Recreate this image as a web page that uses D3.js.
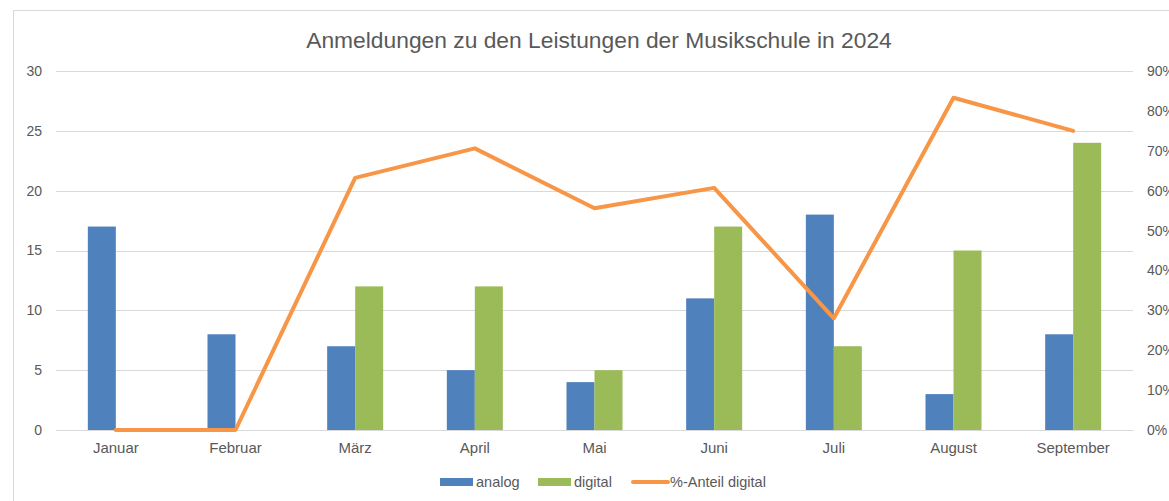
<!DOCTYPE html>
<html>
<head>
<meta charset="utf-8">
<script src="https://cdn.jsdelivr.net/npm/d3@7"></script>
<style>
  body { margin: 0; background: #fff; }
  text { font-family: "Liberation Sans Narrow", "Liberation Sans", Arial, sans-serif; fill: #595959; }
  .title { font-family: "Liberation Sans", Arial, sans-serif; }
</style>
</head>
<body>
<div id="chart"></div>
<script>
// data
const months = ["Januar", "Februar", "März", "April", "Mai", "Juni", "Juli", "August", "September"];
const analog = [17, 8, 7, 5, 4, 11, 18, 3, 8];
const digital = [0, 0, 12, 12, 5, 17, 7, 15, 24];
const shareDigital = [0, 0, 0.632, 0.706, 0.556, 0.607, 0.28, 0.833, 0.75];
const leftTicks = [0, 5, 10, 15, 20, 25, 30];
const rightTicks = [0, 0.1, 0.2, 0.3, 0.4, 0.5, 0.6, 0.7, 0.8, 0.9];

const width = 1169, height = 501;
const margin = {top: 71, right: 36, bottom: 71, left: 56};
const colors = {analog: "#4f81bd", digital: "#9bbb59", line: "#f79646"};

const svg = d3.select("#chart").append("svg")
  .attr("width", width)
  .attr("height", height);

// chart frame (cropped on the right and bottom)
svg.append("rect")
  .attr("x", 13.5).attr("y", 10.5)
  .attr("width", 1200).attr("height", 600)
  .attr("fill", "none").attr("stroke", "#d9d9d9");

const x0 = d3.scaleBand()
  .domain(months)
  .range([margin.left, width - margin.right])
  .padding(0);

const bw = x0.bandwidth();
const x1 = d3.scaleBand()
  .domain(["analog", "digital"])
  .range([bw * 0.266, bw * 0.734]);

const y = d3.scaleLinear().domain([0, 30]).range([height - margin.bottom, margin.top]);
const y2 = d3.scaleLinear().domain([0, 0.9]).range([height - margin.bottom, margin.top]);

// gridlines
svg.append("g")
  .selectAll("line")
  .data(leftTicks)
  .join("line")
    .attr("x1", margin.left).attr("x2", width - margin.right)
    .attr("y1", d => Math.round(y(d)) + 0.5).attr("y2", d => Math.round(y(d)) + 0.5)
    .attr("stroke", "#d9d9d9").attr("stroke-width", 1);

// left axis
const yAxis = d3.axisLeft(y).tickValues(leftTicks).tickSize(0).tickPadding(14);
const yAxisG = svg.append("g")
  .attr("transform", "translate(" + margin.left + ",0)")
  .call(yAxis);
yAxisG.select(".domain").remove();
yAxisG.selectAll("text").style("font-size", "14px").style("font-family", "'Liberation Sans', Arial, sans-serif").attr("fill", "#595959");

// right axis (clipped by the picture edge, as in the original)
const y2Axis = d3.axisRight(y2).tickValues(rightTicks).tickSize(0).tickPadding(14)
  .tickFormat(d3.format(".0%"));
const y2AxisG = svg.append("g")
  .attr("transform", "translate(" + (width - margin.right) + ",0)")
  .call(y2Axis);
y2AxisG.select(".domain").remove();
y2AxisG.selectAll("text").style("font-size", "14px").style("font-family", "'Liberation Sans', Arial, sans-serif").attr("fill", "#595959");

// bars
const rows = months.map((m, i) => ({month: m, analog: analog[i], digital: digital[i]}));
svg.append("g")
  .selectAll("g")
  .data(rows)
  .join("g")
    .attr("transform", d => "translate(" + x0(d.month) + ",0)")
  .selectAll("rect")
  .data(d => ["analog", "digital"].map(k => ({key: k, value: d[k]})))
  .join("rect")
    .attr("x", d => x1(d.key))
    .attr("y", d => y(d.value))
    .attr("width", x1.bandwidth())
    .attr("height", d => y(0) - y(d.value))
    .attr("fill", d => colors[d.key]);

// x axis
const xAxis = d3.axisBottom(x0).tickSize(0).tickPadding(12);
const xAxisG = svg.append("g")
  .attr("transform", "translate(0," + (height - margin.bottom) + ")")
  .call(xAxis);
xAxisG.select(".domain").attr("stroke", "#d9d9d9");
xAxisG.selectAll("text").style("font-size", "15px").style("font-family", "'Liberation Sans Narrow', 'Liberation Sans', Arial, sans-serif").attr("fill", "#595959");

// line
const line = d3.line()
  .x((d, i) => x0(months[i]) + bw / 2)
  .y(d => y2(d));
svg.append("path")
  .datum(shareDigital)
  .attr("d", line)
  .attr("fill", "none")
  .attr("stroke", colors.line)
  .attr("stroke-width", 4)
  .attr("stroke-linejoin", "round")
  .attr("stroke-linecap", "round");

// title
svg.append("text")
  .attr("class", "title")
  .attr("x", 599)
  .attr("y", 48)
  .attr("text-anchor", "middle")
  .style("font-size", "22.8px")
  .text("Anmeldungen zu den Leistungen der Musikschule in 2024");

// legend
const legendItems = [
  {label: "analog", type: "rect", color: colors.analog, x: 440},
  {label: "digital", type: "rect", color: colors.digital, x: 538},
  {label: "%-Anteil digital", type: "line", color: colors.line, x: 633}
];
const legend = svg.append("g").selectAll("g")
  .data(legendItems)
  .join("g")
    .attr("transform", d => "translate(" + d.x + ",482)");
legend.filter(d => d.type === "rect").append("rect")
  .attr("x", 0).attr("y", -4).attr("width", 33).attr("height", 8)
  .attr("fill", d => d.color);
legend.filter(d => d.type === "line").append("line")
  .attr("x1", 0).attr("x2", 35).attr("y1", 0).attr("y2", 0)
  .attr("stroke", d => d.color).attr("stroke-width", 4).attr("stroke-linecap", "round");
legend.append("text")
  .attr("x", d => d.type === "line" ? 37 : 36)
  .attr("y", 5)
  .style("font-size", "14.5px")
  .text(d => d.label);
</script>
</body>
</html>
